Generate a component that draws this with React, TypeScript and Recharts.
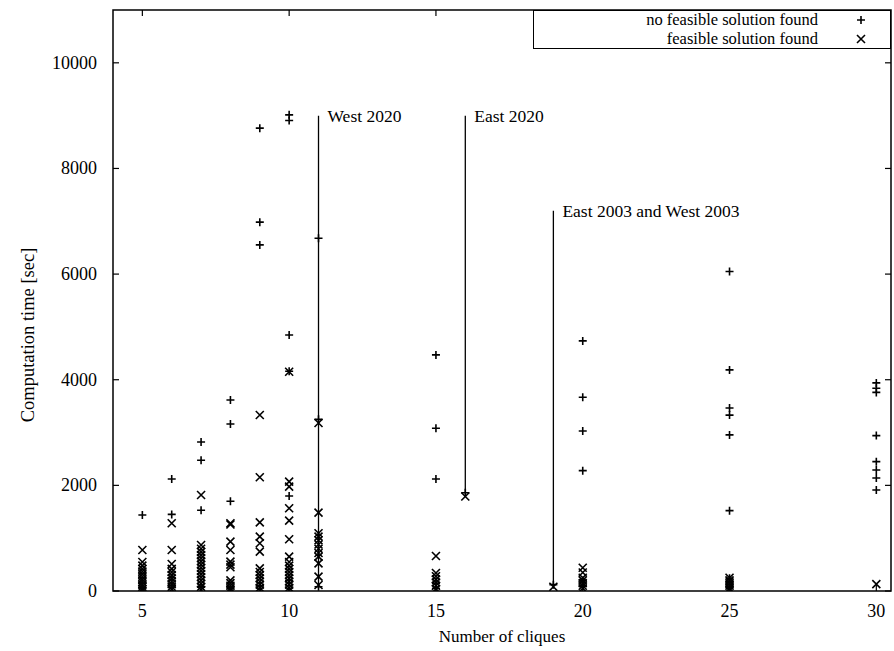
import React from 'react';
import {
  ScatterChart,
  Scatter,
  XAxis,
  YAxis,
  ReferenceLine,
  ReferenceDot,
  ReferenceArea,
  Legend,
} from 'recharts';

// Number of cliques (x positions of the point columns)
const cliqueCounts = [5, 6, 7, 8, 9, 10, 11, 15, 16, 19, 20, 25, 30];

// Computation times [sec] where no feasible solution was found ('+'), aligned with cliqueCounts
const noFeasibleTimes: number[][] = [
  [1439, 150, 60],
  [2121, 1450, 250, 100],
  [2822, 2475, 1530, 80],
  [3617, 3163, 1700, 50],
  [8763, 6983, 6553, 100],
  [9015, 8907, 4848, 4160, 1800, 200],
  [6679, 3250, 80],
  [4470, 3081, 2121, 150, 50],
  [1860],
  [120],
  [4735, 3668, 3030, 2279, 200, 100],
  [6048, 4186, 3466, 3330, 2955, 1521, 240, 180, 120, 60],
  [3940, 3840, 3760, 2942, 2449, 2292, 2140, 1913],
];

// Computation times [sec] where a feasible solution was found ('x'), aligned with cliqueCounts
const feasibleTimes: number[][] = [
  [776, 550, 480, 420, 370, 320, 270, 220, 170, 120, 80, 40, 10],
  [1282, 776, 511, 420, 360, 300, 240, 180, 130, 80, 30],
  [1818, 870, 800, 740, 680, 620, 560, 500, 440, 380, 320, 260, 200, 140, 80, 20],
  [1282, 1260, 934, 776, 555, 500, 450, 200, 150, 100, 50, 10],
  [3333, 2153, 1300, 1029, 903, 745, 429, 360, 300, 240, 180, 120, 60, 10],
  [4150, 2071, 1976, 1566, 1332, 979, 650, 550, 480, 420, 360, 300, 240, 180, 120, 60, 10],
  [3180, 1483, 1093, 1029, 960, 880, 800, 720, 650, 524, 271, 114],
  [663, 340, 280, 220, 160, 100, 40],
  [1790],
  [80],
  [440, 350, 250, 200, 150, 100, 50],
  [250, 200, 150, 100, 50, 10],
  [130],
];

const xTicks = [5, 10, 15, 20, 25, 30];
const yTicks = [0, 2000, 4000, 6000, 8000, 10000];

// Annotation arrows: cliques, start time, end time, label
const annotationX = [11, 16, 19];
const annotationTop = [9000, 9000, 7200];
const annotationBottom = [50, 1860, 110];
const annotationText = ['West 2020', 'East 2020', 'East 2003 and West 2003'];

const seriesNames = ['no feasible solution found', 'feasible solution found'];

const toPoints = (times: number[][]) =>
  cliqueCounts.flatMap((c, i) => times[i].map((t) => ({ x: c, y: t })));

const noFeasibleData = toPoints(noFeasibleTimes);
const feasibleData = toPoints(feasibleTimes);

const W = 894;
const H = 651;
const LEFT = 113;
const RIGHT = 891;
const TOP = 10;
const BOTTOM = 591;
const FONT = '"Liberation Serif", "Times New Roman", serif';
const TICK = 6;

const PlusShape = (p: any) => {
  const { cx, cy } = p;
  const s = 4;
  return (
    <path
      d={`M${cx - s},${cy}H${cx + s}M${cx},${cy - s}V${cy + s}`}
      stroke="#000"
      strokeWidth={1.6}
      fill="none"
    />
  );
};

const CrossShape = (p: any) => {
  const { cx, cy } = p;
  const s = 4;
  return (
    <path
      d={`M${cx - s},${cy - s}L${cx + s},${cy + s}M${cx - s},${cy + s}L${cx + s},${cy - s}`}
      stroke="#000"
      strokeWidth={1.6}
      fill="none"
    />
  );
};

const XTick = (p: any) => {
  const { x, payload } = p;
  return (
    <g>
      <line x1={x} x2={x} y1={BOTTOM} y2={BOTTOM - TICK} stroke="#000" strokeWidth={1.2} />
      <line x1={x} x2={x} y1={TOP} y2={TOP + TICK} stroke="#000" strokeWidth={1.2} />
      <text
        x={x}
        y={611}
        textAnchor="middle"
        dominantBaseline="central"
        fontFamily={FONT}
        fontSize={18}
        fill="#000"
      >
        {payload.value}
      </text>
    </g>
  );
};

const YTick = (p: any) => {
  const { y, payload } = p;
  return (
    <g>
      <line x1={LEFT} x2={LEFT + TICK} y1={y} y2={y} stroke="#000" strokeWidth={1.2} />
      <line x1={RIGHT} x2={RIGHT - TICK} y1={y} y2={y} stroke="#000" strokeWidth={1.2} />
      <text
        x={97}
        y={y}
        textAnchor="end"
        dominantBaseline="central"
        fontFamily={FONT}
        fontSize={18}
        fill="#000"
      >
        {payload.value}
      </text>
    </g>
  );
};

const LegendBox = () => (
  <div
    style={{
      width: 358,
      height: 39,
      border: '1.5px solid #000',
      boxSizing: 'border-box',
      background: '#fff',
      fontFamily: FONT,
      fontSize: 16.5,
      color: '#000',
      paddingTop: 0,
    }}
  >
    {seriesNames.map((name, i) => (
      <div
        key={name}
        style={{ display: 'flex', justifyContent: 'flex-end', alignItems: 'center', height: 18.5 }}
      >
        <span style={{ lineHeight: '18.5px' }}>{name}</span>
        <svg width={72} height={14}>
          {i === 0 ? <PlusShape cx={43} cy={7} /> : <CrossShape cx={43} cy={7} />}
        </svg>
      </div>
    ))}
  </div>
);

const makeLabel = (text: string) => (p: any) => (
  <text
    x={p.cx + 9}
    y={p.cy}
    dominantBaseline="central"
    fontFamily={FONT}
    fontSize={17.5}
    fill="#000"
  >
    {text}
  </text>
);

export default function App() {
  return (
    <div style={{ position: 'absolute', left: 0, top: 0, width: W, height: H, background: '#fff' }}>
      <ScatterChart
        width={W}
        height={H}
        margin={{ top: TOP, right: W - RIGHT, bottom: 0, left: 0 }}
      >
        <XAxis
          dataKey="x"
          type="number"
          domain={[4, 30.5]}
          ticks={xTicks}
          height={H - BOTTOM}
          tickLine={false}
          axisLine={false}
          tick={<XTick />}
          interval={0}
          allowDataOverflow
          label={{
            value: 'Number of cliques',
            position: 'insideBottom',
            offset: 9,
            style: { fontFamily: FONT, fontSize: 17, fill: '#000' },
          }}
        />
        <YAxis
          dataKey="y"
          type="number"
          domain={[0, 11000]}
          ticks={yTicks}
          width={LEFT}
          tickLine={false}
          axisLine={false}
          tick={<YTick />}
          interval={0}
          allowDataOverflow
          label={{
            content: () => (
              <text
                x={28}
                y={335}
                transform="rotate(-90, 28, 335)"
                textAnchor="middle"
                dominantBaseline="central"
                fontFamily={FONT}
                fontSize={18.5}
                fill="#000"
              >
                Computation time [sec]
              </text>
            ),
          }}
        />
        <ReferenceArea
          x1={4}
          x2={30.5}
          y1={0}
          y2={11000}
          fill="none"
          fillOpacity={0}
          stroke="#000"
          strokeWidth={1.5}
          ifOverflow="extendDomain"
        />
        {annotationX.map((x, i) => (
          <ReferenceLine
            key={`l${i}`}
            segment={[
              { x, y: annotationTop[i] },
              { x, y: annotationBottom[i] },
            ]}
            stroke="#000"
            strokeWidth={1.3}
          />
        ))}
        {annotationX.map((x, i) => (
          <ReferenceDot
            key={`t${i}`}
            x={x}
            y={annotationTop[i]}
            r={1}
            shape={makeLabel(annotationText[i])}
          />
        ))}
        <Scatter
          name={seriesNames[0]}
          data={noFeasibleData}
          shape={<PlusShape />}
          isAnimationActive={false}
        />
        <Scatter
          name={seriesNames[1]}
          data={feasibleData}
          shape={<CrossShape />}
          isAnimationActive={false}
        />
        <Legend
          layout="vertical"
          align="center"
          verticalAlign="middle"
          content={<LegendBox />}
          wrapperStyle={{ position: 'absolute', left: 533, top: 10, width: 358, height: 39 }}
        />
      </ScatterChart>
    </div>
  );
}
